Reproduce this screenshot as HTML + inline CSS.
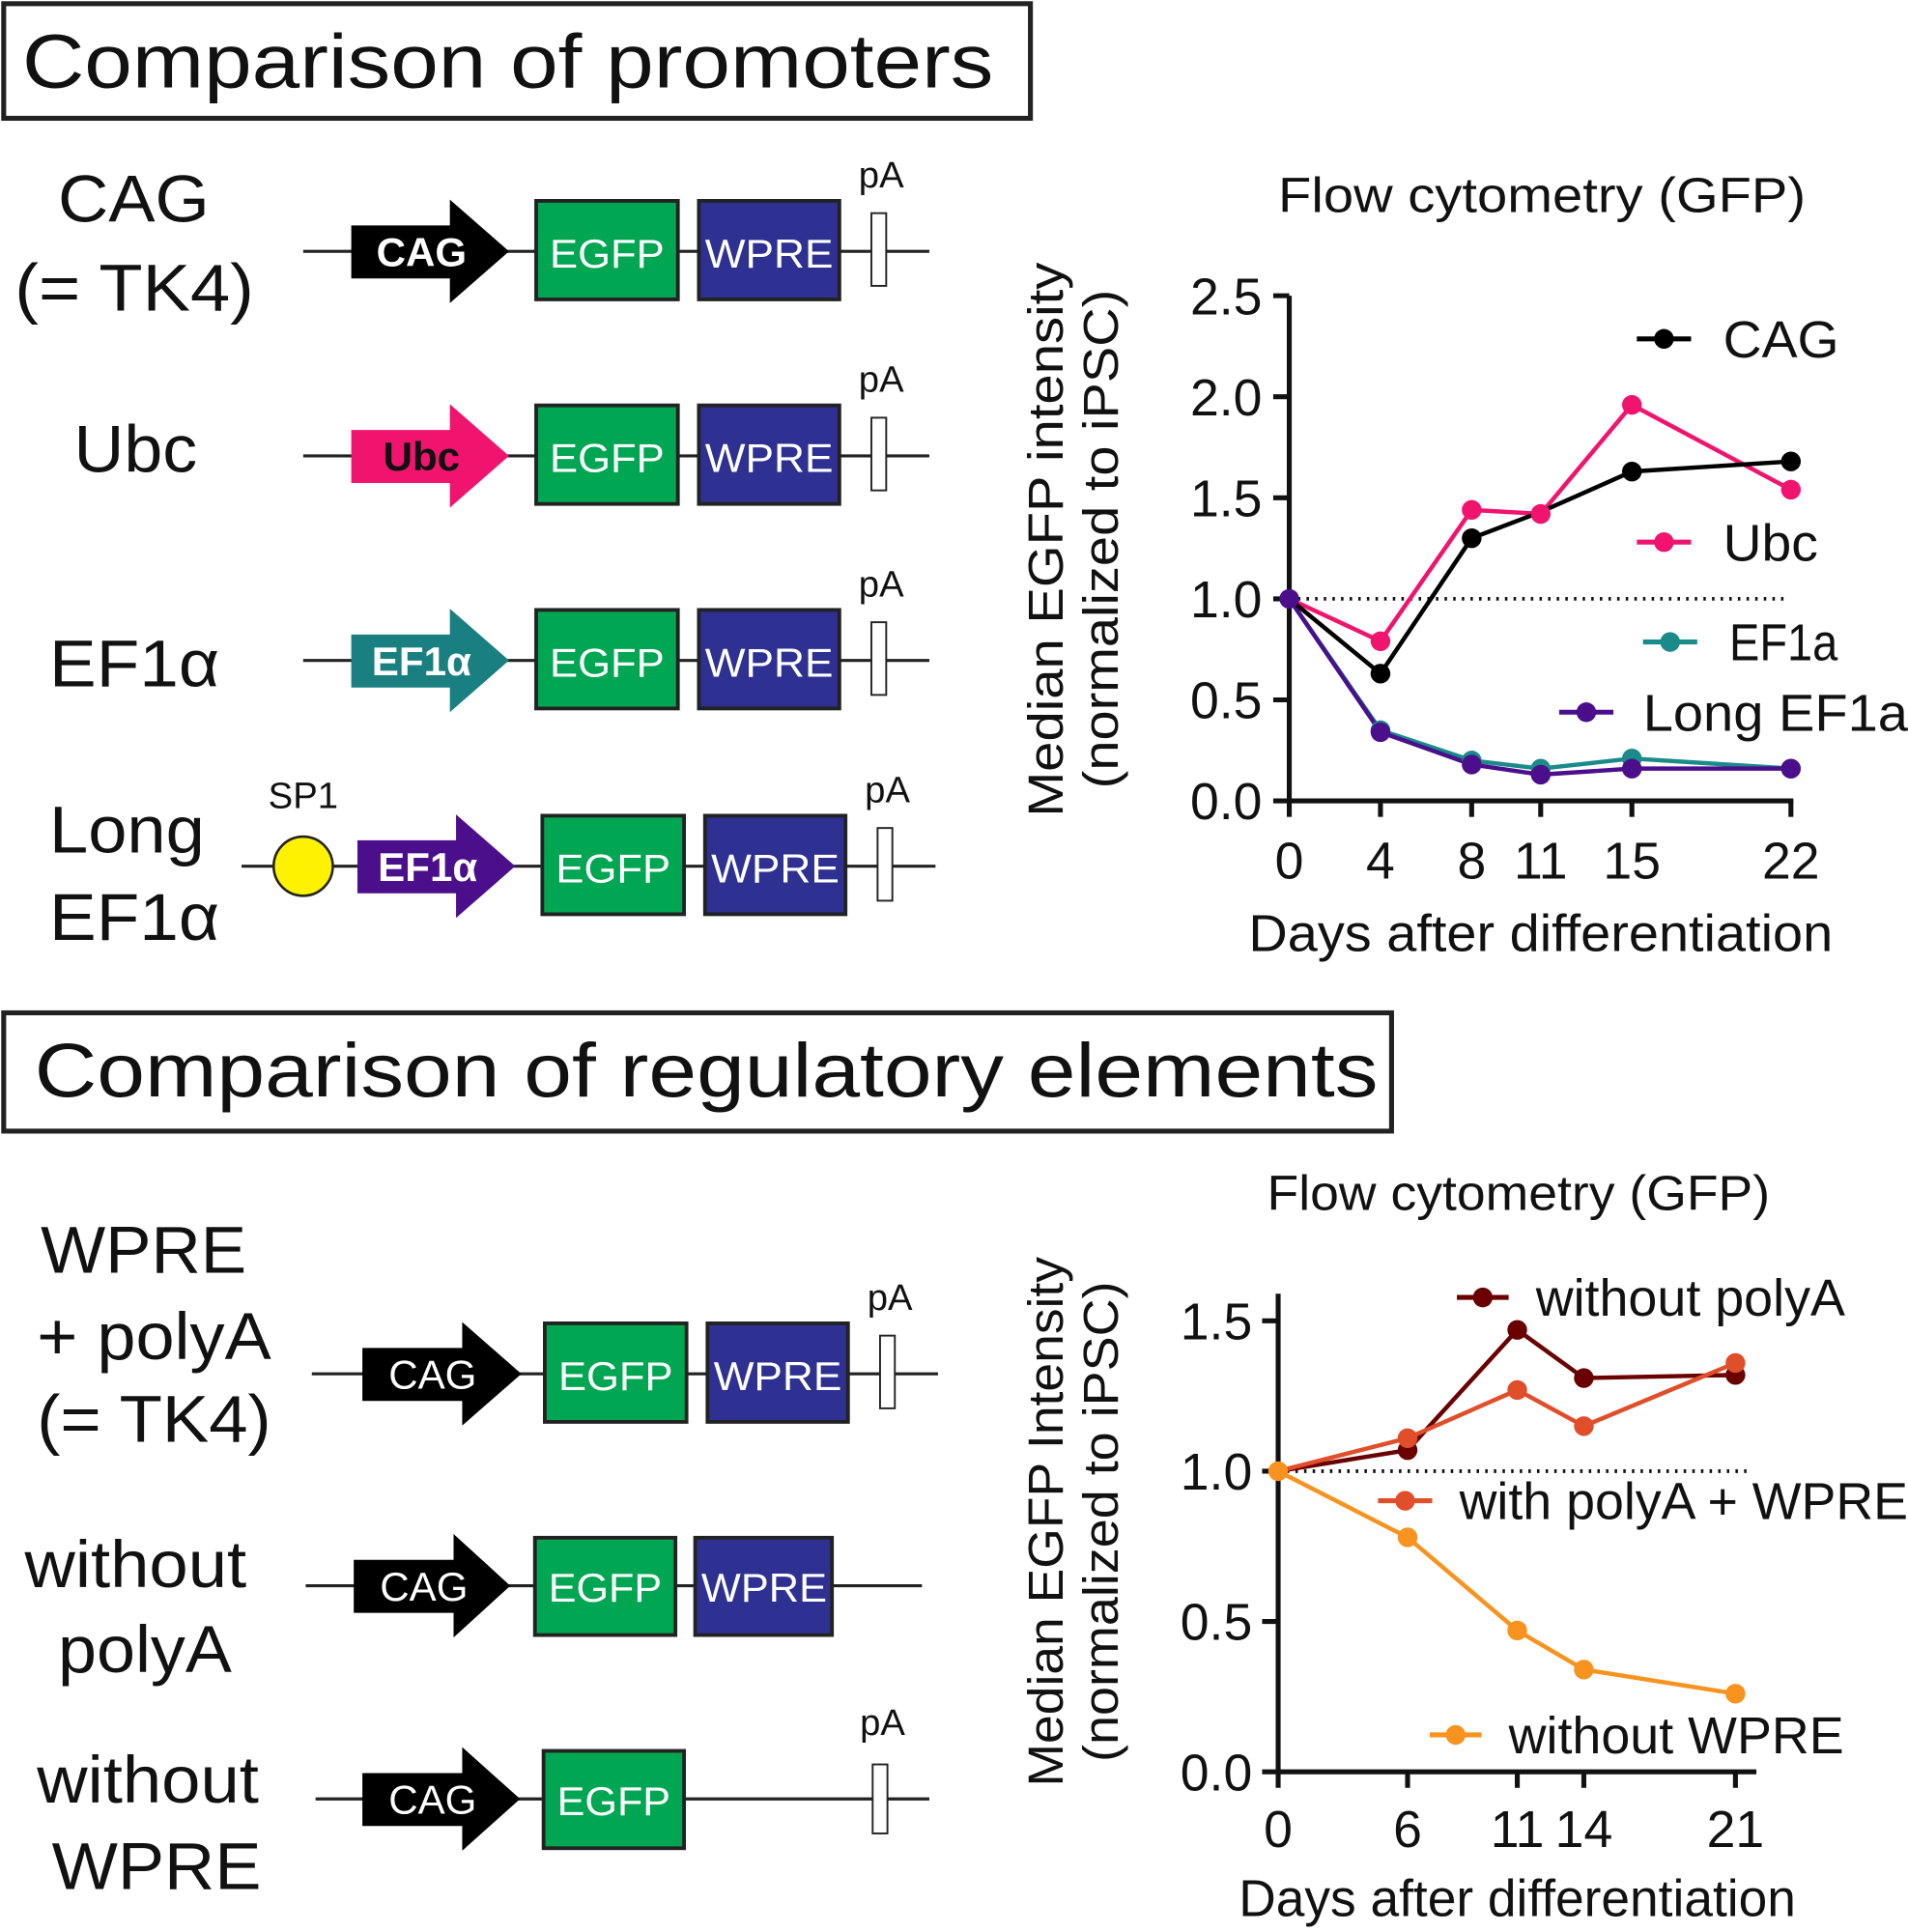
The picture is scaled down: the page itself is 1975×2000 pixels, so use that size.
<!DOCTYPE html>
<html><head><meta charset="utf-8"><style>
html,body{margin:0;padding:0;background:#fff}
svg{display:block}
text{font-family:"Liberation Sans",Arial,sans-serif;fill:#111}
</style></head><body>
<svg width="1975" height="2000" viewBox="0 0 1548 1568" preserveAspectRatio="none" xmlns="http://www.w3.org/2000/svg">
<defs>
<g id="row">
  <line x1="246" y1="0" x2="754" y2="0" stroke="#222" stroke-width="2.5"/>
  <rect x="435" y="-41" width="115" height="80" fill="#00a651" stroke="#222" stroke-width="3"/>
  <text x="446" y="13" font-size="33" textLength="93" lengthAdjust="spacingAndGlyphs" style="fill:#fff">EGFP</text>
  <rect x="567" y="-41" width="114" height="80" fill="#2e3192" stroke="#222" stroke-width="3"/>
  <text x="572" y="13" font-size="33" textLength="104" lengthAdjust="spacingAndGlyphs" style="fill:#fff">WPRE</text>
  <rect x="707" y="-31" width="12" height="59" fill="#fff" stroke="#222" stroke-width="1.5"/>
  <text x="715" y="-52" font-size="30" text-anchor="middle">pA</text>
</g>
</defs>

<rect x="3" y="3" width="833" height="93" fill="none" stroke="#222" stroke-width="4"/>
<text x="18" y="71" font-size="62" textLength="788" lengthAdjust="spacingAndGlyphs">Comparison of promoters</text>

<text x="47" y="180" font-size="54" textLength="123" lengthAdjust="spacingAndGlyphs">CAG</text>
<text x="12" y="252" font-size="54" textLength="194" lengthAdjust="spacingAndGlyphs">(= TK4)</text>
<g transform="translate(0,204)">
  <use href="#row"/>
  <path d="M285,-21 H365 V-42 L413,0 L365,42 V22 H285 Z" fill="#000"/>
  <text x="342" y="12" font-size="33" font-weight="bold" text-anchor="middle" style="fill:#fff">CAG</text>
</g>
<text x="60" y="383" font-size="54" textLength="100" lengthAdjust="spacingAndGlyphs">Ubc</text>
<g transform="translate(0,370)">
  <use href="#row"/>
  <path d="M285,-21 H365 V-42 L413,0 L365,42 V22 H285 Z" fill="#f0146e"/>
  <text x="342" y="12" font-size="33" font-weight="bold" text-anchor="middle">Ubc</text>
</g>
<text x="40" y="557" font-size="54" textLength="138" lengthAdjust="spacingAndGlyphs">EF1α</text>
<g transform="translate(0,536)">
  <use href="#row"/>
  <path d="M285,-21 H365 V-42 L413,0 L365,42 V22 H285 Z" fill="#1a7f80"/>
  <text x="342" y="12" font-size="33" font-weight="bold" text-anchor="middle" style="fill:#fff">EF1α</text>
</g>
<text x="40" y="692" font-size="54" textLength="126" lengthAdjust="spacingAndGlyphs">Long</text>
<text x="40" y="763" font-size="54" textLength="138" lengthAdjust="spacingAndGlyphs">EF1α</text>
<text x="246" y="656" font-size="30" text-anchor="middle">SP1</text>
<line x1="196" y1="703" x2="250" y2="703" stroke="#222" stroke-width="2.5"/>
<g transform="translate(5,703)">
  <use href="#row"/>
  <path d="M285,-21 H365 V-42 L413,0 L365,42 V22 H285 Z" fill="#4b0f8c"/>
  <text x="342" y="12" font-size="33" font-weight="bold" text-anchor="middle" style="fill:#fff">EF1α</text>
</g>
<circle cx="246" cy="703" r="24" fill="#fff200" stroke="#222" stroke-width="2"/>

<!-- Chart 1 -->
<text x="1037" y="172" font-size="40" textLength="428" lengthAdjust="spacingAndGlyphs">Flow cytometry (GFP)</text>
<text transform="translate(862,663) rotate(-90)" font-size="40" textLength="450" lengthAdjust="spacingAndGlyphs">Median EGFP intensity</text>
<text transform="translate(907,640) rotate(-90)" font-size="40" textLength="405" lengthAdjust="spacingAndGlyphs">(normalized to iPSC)</text>
<g stroke="#111" stroke-width="4" fill="none">
  <line x1="1046" y1="240" x2="1046" y2="652"/>
  <line x1="1044" y1="650" x2="1455" y2="650"/>
  <line x1="1033" y1="240" x2="1046" y2="240"/>
  <line x1="1033" y1="322" x2="1046" y2="322"/>
  <line x1="1033" y1="404" x2="1046" y2="404"/>
  <line x1="1033" y1="486" x2="1046" y2="486"/>
  <line x1="1033" y1="568" x2="1046" y2="568"/>
  <line x1="1033" y1="650" x2="1046" y2="650"/>
  <line x1="1046" y1="650" x2="1046" y2="663"/>
  <line x1="1120" y1="650" x2="1120" y2="663"/>
  <line x1="1194" y1="650" x2="1194" y2="663"/>
  <line x1="1250" y1="650" x2="1250" y2="663"/>
  <line x1="1324" y1="650" x2="1324" y2="663"/>
  <line x1="1453" y1="650" x2="1453" y2="663"/>
</g>
<g font-size="42" text-anchor="end">
  <text x="1024" y="255">2.5</text><text x="1024" y="337">2.0</text><text x="1024" y="419">1.5</text>
  <text x="1024" y="501">1.0</text><text x="1024" y="583">0.5</text><text x="1024" y="665">0.0</text>
</g>
<g font-size="42" text-anchor="middle">
  <text x="1046" y="713">0</text><text x="1120" y="713">4</text><text x="1194" y="713">8</text>
  <text x="1250" y="713">11</text><text x="1324" y="713">15</text><text x="1453" y="713">22</text>
</g>
<text x="1013" y="772" font-size="42" textLength="474" lengthAdjust="spacingAndGlyphs">Days after differentiation</text>
<line x1="1046" y1="486" x2="1452" y2="486" stroke="#111" stroke-width="3" stroke-dasharray="2,5"/>
<g fill="none" stroke-width="3.5">
  <polyline stroke="#1a8a8a" points="1046,486 1120,592.6 1194,617.2 1250,623.8 1324,615.6 1453,623.8"/>
  <polyline stroke="#4b0f8c" points="1046,486 1120,594.2 1194,620.5 1250,628.7 1324,623.8 1453,623.8"/>
  <polyline stroke="#f0146e" points="1046,486 1120,520.4 1194,413.8 1250,417.1 1324,328.6 1453,397.4"/>
  <polyline stroke="#000" points="1046,486 1120,546.7 1194,436.8 1250,415.5 1324,382.7 1453,374.5"/>
</g>
<g fill="#1a8a8a"><circle cx="1120" cy="592.6" r="8"/><circle cx="1194" cy="617.2" r="8"/><circle cx="1250" cy="623.8" r="8"/><circle cx="1324" cy="615.6" r="8"/><circle cx="1453" cy="623.8" r="8"/></g>
<g fill="#4b0f8c"><circle cx="1046" cy="486" r="8"/><circle cx="1120" cy="594.2" r="8"/><circle cx="1194" cy="620.5" r="8"/><circle cx="1250" cy="628.7" r="8"/><circle cx="1324" cy="623.8" r="8"/><circle cx="1453" cy="623.8" r="8"/></g>
<g fill="#f0146e"><circle cx="1120" cy="520.4" r="8"/><circle cx="1194" cy="413.8" r="8"/><circle cx="1250" cy="417.1" r="8"/><circle cx="1324" cy="328.6" r="8"/><circle cx="1453" cy="397.4" r="8"/></g>
<g fill="#000"><circle cx="1120" cy="546.7" r="8"/><circle cx="1194" cy="436.8" r="8"/><circle cx="1324" cy="382.7" r="8"/><circle cx="1453" cy="374.5" r="8"/></g>
<g stroke-width="4">
  <line x1="1328" y1="275" x2="1372" y2="275" stroke="#000"/><circle cx="1350" cy="275" r="8" fill="#000"/>
  <line x1="1328" y1="440" x2="1372" y2="440" stroke="#f0146e"/><circle cx="1350" cy="440" r="8" fill="#f0146e"/>
  <line x1="1333" y1="521" x2="1377" y2="521" stroke="#1a8a8a"/><circle cx="1355" cy="521" r="8" fill="#1a8a8a"/>
  <line x1="1265" y1="578" x2="1309" y2="578" stroke="#4b0f8c"/><circle cx="1287" cy="578" r="8" fill="#4b0f8c"/>
</g>
<g font-size="42">
  <text x="1398" y="290" textLength="94" lengthAdjust="spacingAndGlyphs">CAG</text>
  <text x="1398" y="455" textLength="77" lengthAdjust="spacingAndGlyphs">Ubc</text>
  <text x="1403" y="536" textLength="88" lengthAdjust="spacingAndGlyphs">EF1a</text>
  <text x="1333" y="593" textLength="215" lengthAdjust="spacingAndGlyphs">Long EF1a</text>
</g>

<!-- Bottom title -->
<rect x="3" y="822" width="1126" height="96" fill="none" stroke="#222" stroke-width="4"/>
<text x="28" y="890" font-size="62" textLength="1090" lengthAdjust="spacingAndGlyphs">Comparison of regulatory elements</text>

<text x="33" y="1033" font-size="54" textLength="167" lengthAdjust="spacingAndGlyphs">WPRE</text>
<text x="30" y="1103" font-size="54" textLength="190" lengthAdjust="spacingAndGlyphs">+ polyA</text>
<text x="30" y="1170" font-size="54" textLength="190" lengthAdjust="spacingAndGlyphs">(= TK4)</text>
<g transform="translate(7,1115)">
  <use href="#row"/>
  <path d="M287,-21 H368 V-42 L416,0 L368,42 V22 H287 Z" fill="#000"/>
  <text x="344" y="12" font-size="33" text-anchor="middle" style="fill:#fff">CAG</text>
</g>
<text x="20" y="1288" font-size="54" textLength="180" lengthAdjust="spacingAndGlyphs">without</text>
<text x="47" y="1357" font-size="54" textLength="141" lengthAdjust="spacingAndGlyphs">polyA</text>
<g transform="translate(0,1287)">
  <line x1="248" y1="0" x2="748" y2="0" stroke="#222" stroke-width="2.5"/>
  <path d="M287,-21 H368 V-42 L414,0 L368,42 V22 H287 Z" fill="#000"/>
  <text x="344" y="12" font-size="33" text-anchor="middle" style="fill:#fff">CAG</text>
  <rect x="434" y="-39" width="114" height="79" fill="#00a651" stroke="#222" stroke-width="3"/>
  <text x="445" y="13" font-size="33" textLength="92" lengthAdjust="spacingAndGlyphs" style="fill:#fff">EGFP</text>
  <rect x="564" y="-39" width="111" height="79" fill="#2e3192" stroke="#222" stroke-width="3"/>
  <text x="569" y="13" font-size="33" textLength="102" lengthAdjust="spacingAndGlyphs" style="fill:#fff">WPRE</text>
</g>
<text x="30" y="1463" font-size="54" textLength="180" lengthAdjust="spacingAndGlyphs">without</text>
<text x="42" y="1533" font-size="54" textLength="170" lengthAdjust="spacingAndGlyphs">WPRE</text>
<g transform="translate(0,1460)">
  <line x1="256" y1="0" x2="754" y2="0" stroke="#222" stroke-width="2.5"/>
  <path d="M294,-21 H375 V-42 L422,0 L375,42 V22 H294 Z" fill="#000"/>
  <text x="351" y="12" font-size="33" text-anchor="middle" style="fill:#fff">CAG</text>
  <rect x="441" y="-39" width="114" height="79" fill="#00a651" stroke="#222" stroke-width="3"/>
  <text x="452" y="13" font-size="33" textLength="92" lengthAdjust="spacingAndGlyphs" style="fill:#fff">EGFP</text>
  <rect x="708" y="-28" width="12" height="56" fill="#fff" stroke="#222" stroke-width="1.5"/>
  <text x="716" y="-52" font-size="30" text-anchor="middle">pA</text>
</g>

<!-- Chart 2 -->
<text x="1028" y="982" font-size="40" textLength="408" lengthAdjust="spacingAndGlyphs">Flow cytometry (GFP)</text>
<text transform="translate(862,1450) rotate(-90)" font-size="40" textLength="430" lengthAdjust="spacingAndGlyphs">Median EGFP Intensity</text>
<text transform="translate(907,1430) rotate(-90)" font-size="40" textLength="390" lengthAdjust="spacingAndGlyphs">(normalized to iPSC)</text>
<g stroke="#111" stroke-width="4" fill="none">
  <line x1="1037" y1="1050" x2="1037" y2="1440"/>
  <line x1="1035" y1="1438" x2="1425" y2="1438"/>
  <line x1="1024" y1="1072" x2="1037" y2="1072"/>
  <line x1="1024" y1="1194" x2="1037" y2="1194"/>
  <line x1="1024" y1="1316" x2="1037" y2="1316"/>
  <line x1="1024" y1="1438" x2="1037" y2="1438"/>
  <line x1="1037" y1="1438" x2="1037" y2="1451"/>
  <line x1="1142" y1="1438" x2="1142" y2="1451"/>
  <line x1="1231" y1="1438" x2="1231" y2="1451"/>
  <line x1="1285" y1="1438" x2="1285" y2="1451"/>
  <line x1="1408" y1="1438" x2="1408" y2="1451"/>
</g>
<g font-size="42" text-anchor="end">
  <text x="1016" y="1087">1.5</text><text x="1016" y="1209">1.0</text>
  <text x="1016" y="1331">0.5</text><text x="1016" y="1453">0.0</text>
</g>
<g font-size="42" text-anchor="middle">
  <text x="1037" y="1499">0</text><text x="1142" y="1499">6</text><text x="1231" y="1499">11</text>
  <text x="1285" y="1499">14</text><text x="1408" y="1499">21</text>
</g>
<text x="1005" y="1555" font-size="42" textLength="452" lengthAdjust="spacingAndGlyphs">Days after differentiation</text>
<line x1="1037" y1="1194" x2="1422" y2="1194" stroke="#111" stroke-width="3" stroke-dasharray="2,5"/>
<g fill="none" stroke-width="3.5">
  <polyline stroke="#6b0000" points="1037,1194 1142,1176.9 1231,1079.3 1285,1118.4 1408,1115.9"/>
  <polyline stroke="#e04e2a" points="1037,1194 1142,1167.2 1231,1128.1 1285,1157.4 1408,1106.2"/>
  <polyline stroke="#f7931e" points="1037,1194 1142,1247.7 1231,1323.3 1285,1355 1408,1374.6"/>
</g>
<g fill="#6b0000"><circle cx="1142" cy="1176.9" r="8"/><circle cx="1231" cy="1079.3" r="8"/><circle cx="1285" cy="1118.4" r="8"/><circle cx="1408" cy="1115.9" r="8"/></g>
<g fill="#e04e2a"><circle cx="1142" cy="1167.2" r="8"/><circle cx="1231" cy="1128.1" r="8"/><circle cx="1285" cy="1157.4" r="8"/><circle cx="1408" cy="1106.2" r="8"/></g>
<g fill="#f7931e"><circle cx="1037" cy="1194" r="8"/><circle cx="1142" cy="1247.7" r="8"/><circle cx="1231" cy="1323.3" r="8"/><circle cx="1285" cy="1355" r="8"/><circle cx="1408" cy="1374.6" r="8"/></g>
<g stroke-width="4">
  <line x1="1182" y1="1053" x2="1224" y2="1053" stroke="#6b0000"/><circle cx="1203" cy="1053" r="8" fill="#6b0000"/>
  <line x1="1118" y1="1218" x2="1162" y2="1218" stroke="#e04e2a"/><circle cx="1140" cy="1218" r="8" fill="#e04e2a"/>
  <line x1="1160" y1="1408" x2="1202" y2="1408" stroke="#f7931e"/><circle cx="1181" cy="1408" r="8" fill="#f7931e"/>
</g>
<g font-size="42">
  <text x="1246" y="1068" textLength="251" lengthAdjust="spacingAndGlyphs">without polyA</text>
  <text x="1184" y="1233" textLength="364" lengthAdjust="spacingAndGlyphs">with polyA + WPRE</text>
  <text x="1224" y="1423" textLength="272" lengthAdjust="spacingAndGlyphs">without WPRE</text>
</g>
</svg>
</body></html>
